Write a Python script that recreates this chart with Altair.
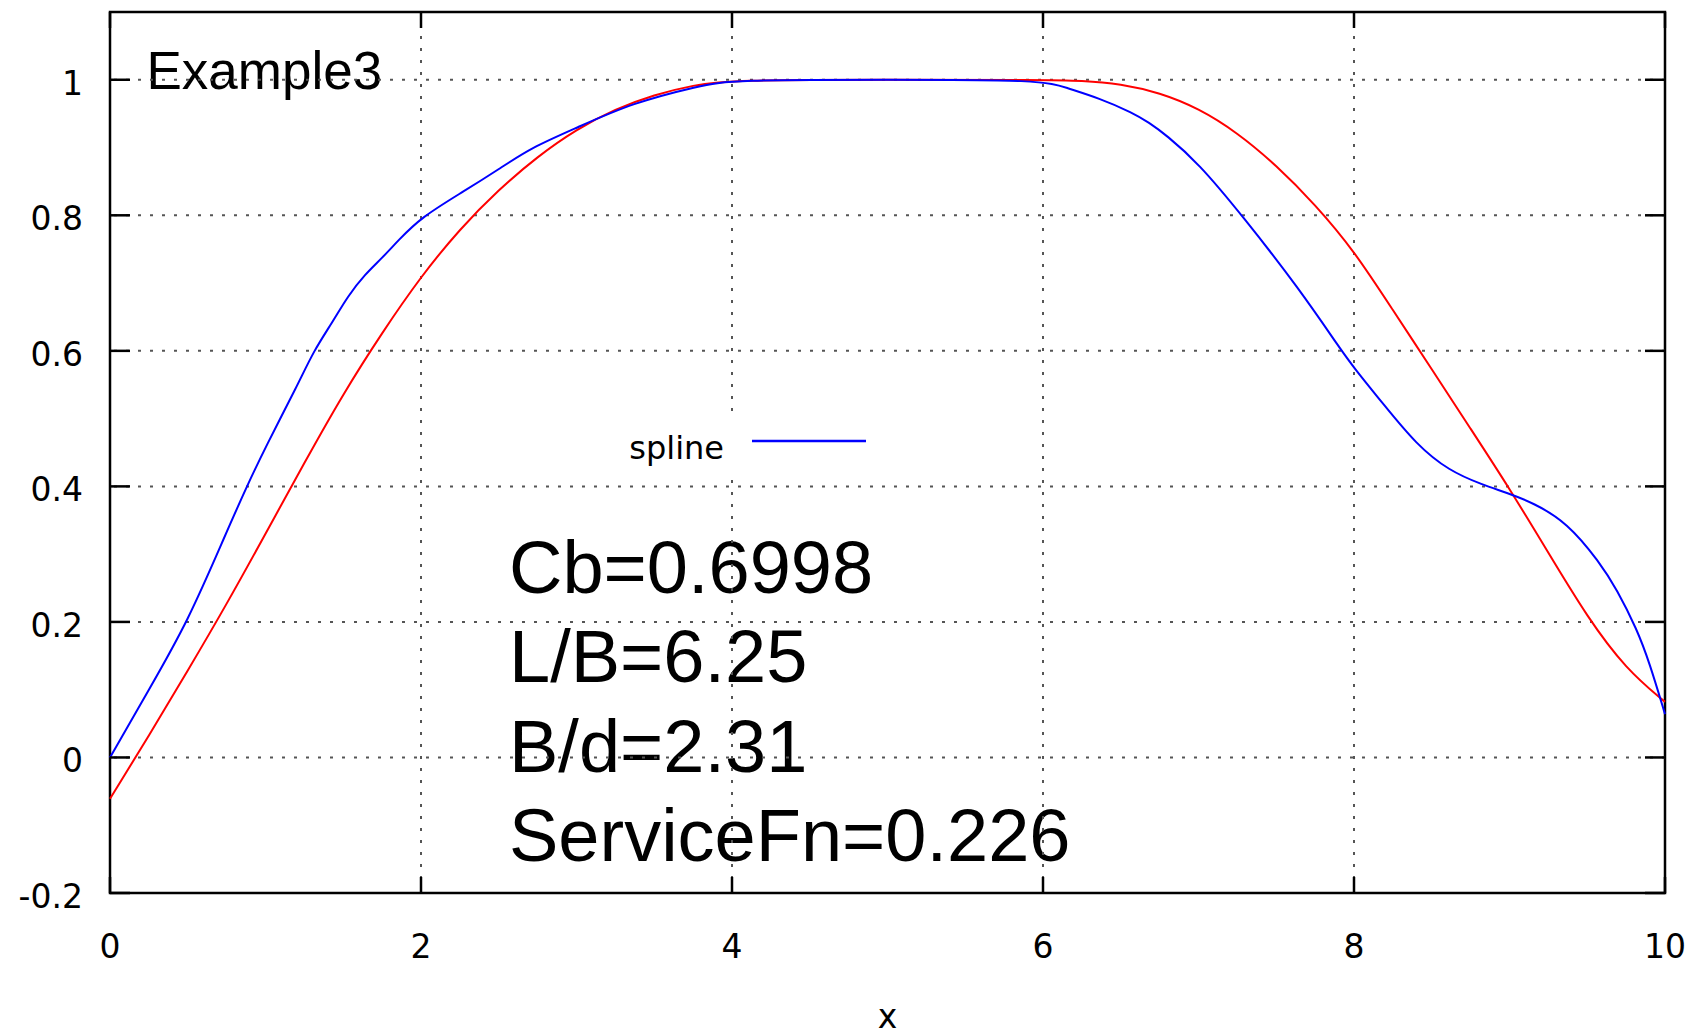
import altair as alt
import pandas as pd

# ---- data ----
blue_x = [0, 0.25, 0.5, 0.75, 0.88, 1.0, 1.21, 1.31, 1.43, 1.53, 1.64, 1.75, 1.85, 2.0, 2.28, 2.5,
          2.71, 3.0, 3.36, 3.79, 4.0, 5.0, 6.0, 6.15, 6.36, 6.58, 6.68, 6.79, 7.0, 7.28, 7.65,
          7.92, 8.0, 8.19, 8.4, 8.61, 8.83, 8.98, 9.15, 9.37, 9.58, 9.69, 9.82, 9.9, 10.0]
blue_y = [0.0, 0.1, 0.2, 0.333, 0.4, 0.458, 0.551, 0.6, 0.642, 0.681, 0.713, 0.737, 0.762, 0.797, 0.836, 0.868,
          0.9, 0.929, 0.966, 0.991, 1.0, 1.0, 1.0, 0.988, 0.973, 0.951, 0.937, 0.919, 0.877, 0.8, 0.691,
          0.6, 0.575, 0.521, 0.462, 0.423, 0.402, 0.391, 0.376, 0.347, 0.288, 0.248, 0.189, 0.14, 0.064]

red_x = [0, 0.25, 0.5, 0.75, 1.0, 1.25, 1.5, 1.75, 2.0, 2.25, 2.5, 2.75, 3.0, 3.25, 3.5, 3.75,
         4.0, 5.0, 6.0, 6.25, 6.5, 6.75, 7.0, 7.25, 7.5, 7.75, 8.0, 8.25, 8.5, 8.75, 9.0,
         9.25, 9.5, 9.75, 10.0]
red_y = [-0.061, 0.032, 0.128, 0.226, 0.33, 0.435, 0.537, 0.627, 0.71, 0.78, 0.838, 0.887, 0.927, 0.957, 0.978, 0.992,
         1.0, 1.0, 1.0, 0.999, 0.994, 0.981, 0.958, 0.922, 0.874, 0.816, 0.748, 0.66, 0.573, 0.485, 0.397,
         0.302, 0.207, 0.13, 0.082]

x_ticks = [0, 2, 4, 6, 8, 10]
x_tick_labels = ["0", "2", "4", "6", "8", "10"]
y_ticks = [-0.2, 0, 0.2, 0.4, 0.6, 0.8, 1]
y_tick_labels = ["-0.2", "0", "0.2", "0.4", "0.6", "0.8", "1"]
x_grid = [2, 4, 6, 8]
y_grid = [0, 0.2, 0.4, 0.6, 0.8, 1]

title_text = "Example3"
legend_label = "spline"
x_axis_title = "x"
annotation_lines = ["Cb=0.6998", "L/B=6.25", "B/d=2.31", "ServiceFn=0.226"]

# ---- layout ----
W, H = 1555, 881
xs = alt.Scale(domain=[0, 10], nice=False, zero=False)
ys = alt.Scale(domain=[-0.2, 1.1], nice=False, zero=False)
one = pd.DataFrame({"a": [0]})

blue_df = pd.DataFrame({"x": blue_x, "y": blue_y})
red_df = pd.DataFrame({"x": red_x, "y": red_y})
xt_df = pd.DataFrame({"v": x_ticks, "lab": x_tick_labels})
yt_df = pd.DataFrame({"v": y_ticks, "lab": y_tick_labels})
xg_df = pd.DataFrame({"v": x_grid})
yg_df = pd.DataFrame({"v": y_grid})

X = lambda f: alt.X(f, scale=xs, axis=None)
Y = lambda f: alt.Y(f, scale=ys, axis=None)

annot = alt.Chart(one).mark_text(
    text="\n".join(annotation_lines), lineBreak="\n", lineHeight=89.5,
    font="Liberation Sans", fontSize=74, align="left", baseline="alphabetic", color="black"
).encode(x=alt.value(399), y=alt.value(580.7))

title = alt.Chart(one).mark_text(
    text=title_text, font="Liberation Sans", fontSize=53, align="left",
    baseline="alphabetic", color="black"
).encode(x=alt.value(36.5), y=alt.value(77.3))

grid_y = alt.Chart(yg_df).mark_rule(color="#555555", strokeDash=[3, 9], strokeWidth=2).encode(y=Y("v:Q"))
grid_x = alt.Chart(xg_df).mark_rule(color="#555555", strokeDash=[3, 9], strokeWidth=2).encode(x=X("v:Q"))

legend_bg = alt.Chart(one).mark_rect(color="white").encode(
    x=alt.value(505), x2=alt.value(770), y=alt.value(408), y2=alt.value(461))
legend_text = alt.Chart(one).mark_text(
    text=legend_label, font="DejaVu Sans", fontSize=32, align="right",
    baseline="alphabetic", color="black"
).encode(x=alt.value(614), y=alt.value(447))
legend_line = alt.Chart(one).mark_rule(color="#0000ff", strokeWidth=2.5).encode(
    x=alt.value(642), x2=alt.value(756), y=alt.value(429))

red = alt.Chart(red_df).mark_line(color="#ff0000", strokeWidth=2, interpolate="basis").encode(
    x=X("x:Q"), y=Y("y:Q"))
blue = alt.Chart(blue_df).mark_line(color="#0000ff", strokeWidth=2, interpolate="basis").encode(
    x=X("x:Q"), y=Y("y:Q"))

tick_l = alt.Chart(yt_df).mark_rule(color="black", strokeWidth=2.5).encode(
    y=Y("v:Q"), x=alt.value(0), x2=alt.value(20))
tick_r = alt.Chart(yt_df).mark_rule(color="black", strokeWidth=2.5).encode(
    y=Y("v:Q"), x=alt.value(W - 20), x2=alt.value(W))
tick_b = alt.Chart(xt_df).mark_rule(color="black", strokeWidth=2.5).encode(
    x=X("v:Q"), y=alt.value(H - 16), y2=alt.value(H))
tick_t = alt.Chart(xt_df).mark_rule(color="black", strokeWidth=2.5).encode(
    x=X("v:Q"), y=alt.value(0), y2=alt.value(16))

ylab = alt.Chart(yt_df).mark_text(
    font="DejaVu Sans", fontSize=33, align="right", baseline="middle", dy=5, color="black"
).encode(y=Y("v:Q"), x=alt.value(-27), text="lab:N")
xlab = alt.Chart(xt_df).mark_text(
    font="DejaVu Sans", fontSize=33, align="center", baseline="middle", color="black"
).encode(x=X("v:Q"), y=alt.value(H + 55), text="lab:N")
xtitle = alt.Chart(pd.DataFrame({"v": [5], "lab": [x_axis_title]})).mark_text(
    font="DejaVu Sans", fontSize=33, align="center", baseline="alphabetic", color="black"
).encode(x=X("v:Q"), y=alt.value(H + 135), text="lab:N")

chart = alt.layer(
    annot, title, grid_y, grid_x, legend_bg, legend_text, legend_line,
    red, blue, tick_l, tick_r, tick_b, tick_t, ylab, xlab, xtitle
).properties(
    width=W, height=H,
    padding={"left": 110, "top": 12, "right": 25, "bottom": 139},
    autosize=alt.AutoSizeParams(type="none"),
    background="white",
).configure_view(stroke="black", strokeWidth=2.5)

chart.save("out.html", embed_options={"renderer": "svg", "actions": False})
